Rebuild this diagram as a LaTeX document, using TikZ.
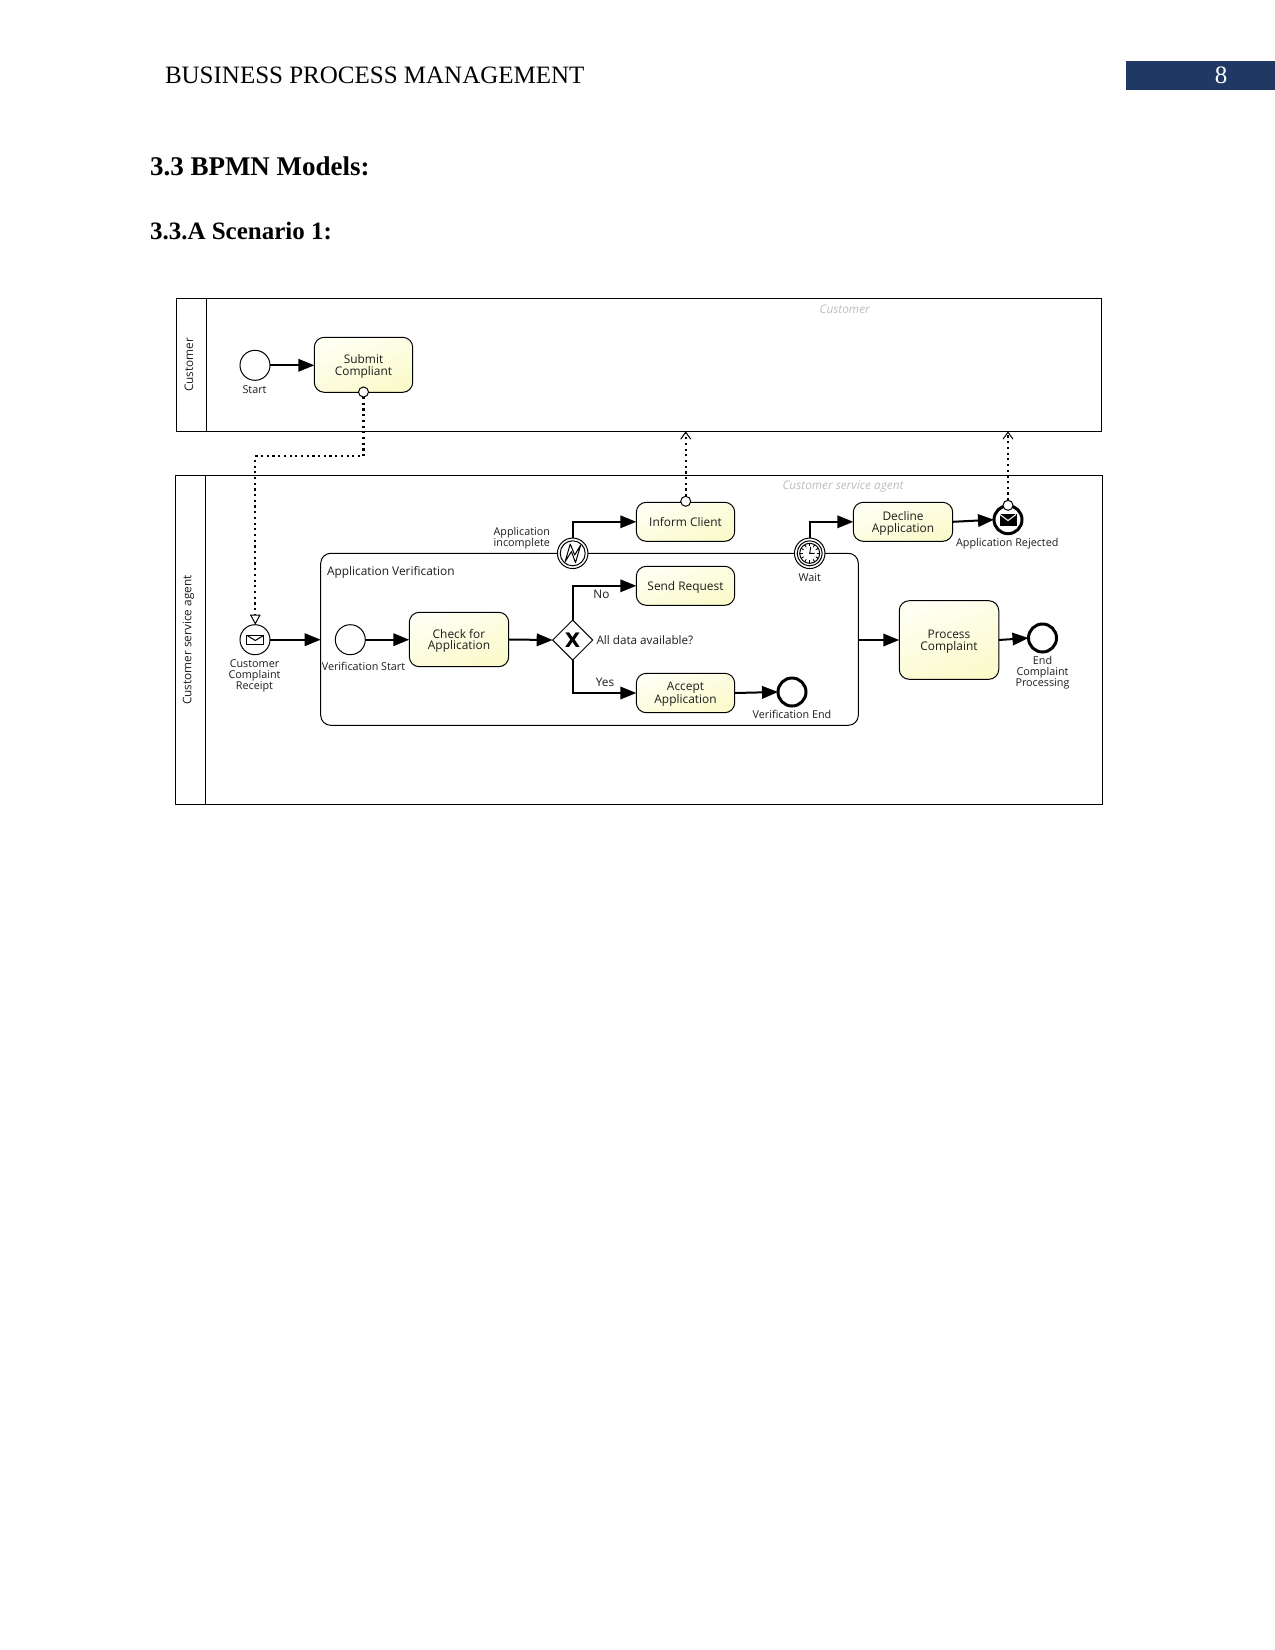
\documentclass[tikz,border=0pt]{standalone}
\usepackage{fontspec}
\setmainfont{Liberation Serif}
\newfontfamily\bpmnfont{Open Sans}
\newfontfamily\markfont{DejaVu Sans}
\usetikzlibrary{arrows.meta,shapes.geometric,calc}
\definecolor{headerblue}{HTML}{1F3864}
\definecolor{bpmntext}{HTML}{1C1C1C}
\definecolor{lanegrey}{HTML}{BDBDBD}
\definecolor{taskpale}{HTML}{FFFFF4}
\definecolor{taskyellow}{HTML}{FAFACB}
\tikzset{
  x=1pt,y=-1pt,
  pool/.style={draw,line width=1pt,inner sep=0pt,outer sep=0pt,anchor=north west},
  task/.style={draw,line width=1pt,rounded corners=10pt,inner sep=0pt,outer sep=0pt,
    shading=axis,left color=taskpale,right color=taskyellow,shading angle=20,align=center,
    text depth=0pt,font=\bpmnfont\fontsize{11.9}{11.8}\selectfont,text=bpmntext},
  label/.style={inner sep=0pt,outer sep=0pt,align=center,
    font=\bpmnfont\fontsize{10.8}{11}\selectfont,text=bpmntext},
  lanetitle/.style={inner sep=0pt,rotate=90,font=\bpmnfont\fontsize{11.8}{12}\selectfont,text=bpmntext},
  laneghost/.style={inner sep=0pt,font=\bpmnfont\itshape\fontsize{11.8}{12}\selectfont,text=lanegrey},
  event/.style={circle,draw,fill=white,line width=1pt,inner sep=0pt,outer sep=0pt,minimum size=30pt},
  endevent/.style={circle,draw,fill=white,line width=3pt,inner sep=0pt,outer sep=0pt,minimum size=28pt},
  boundary/.style={event,minimum size=30.5pt},
  ringinner/.style={circle,draw,line width=1pt,inner sep=0pt,minimum size=25pt},
  port/.style={circle,draw,fill=white,line width=1pt,inner sep=0pt,outer sep=0pt,minimum size=10pt},
  gateway/.style={diamond,draw,fill=white,line width=1pt,inner sep=0pt,outer sep=0pt,
    minimum width=40pt,minimum height=40pt},
  flow/.style={line width=2pt,-{Triangle[length=16pt,width=12.5pt]}},
  msgflow/.style={line width=2.3pt,dash pattern=on 2.2pt off 3.5pt},
  pagehead/.style={inner sep=0pt,outer sep=0pt,anchor=base west},
}
\begin{document}
\begin{tikzpicture}
\useasboundingbox (0,0) rectangle (1275,1650);

% Page header and headings
\fill[headerblue] (1125.5,60.5) rectangle (1275,89.5);
\node[pagehead,font=\fontsize{25}{28}\selectfont] (runninghead) at (165,83) {BUSINESS PROCESS MANAGEMENT};
\node[inner sep=0pt,text=white,font=\fontsize{25}{28}\selectfont] (pagenum) at (1221,75) {8};
\node[pagehead,font=\bfseries\fontsize{27}{30}\selectfont] (headmodels) at (150,175.3) {3.3 BPMN Models:};
\node[pagehead,font=\bfseries\fontsize{25}{28}\selectfont] (headscenario) at (150,239) {3.3.A Scenario 1:};

% Pools
\node[pool,minimum width=925.2pt,minimum height=133pt] (poolcustomer) at (176.5,298.3) {};
\draw[line width=1pt] (206.3,298.3) -- (206.3,431.3);
\node[lanetitle] (titlecustomer) at (189,364.7) {Customer};
\node[laneghost] (ghostcustomer) at (844.7,309) {Customer};

\node[pool,minimum width=927pt,minimum height=329pt] (poolagent) at (175.7,475.3) {};
\draw[line width=1pt] (205.3,475.3) -- (205.3,804.3);
\node[lanetitle] (titleagent) at (188.5,640) {Customer service agent};
\node[laneghost] (ghostagent) at (843,487) {Customer service agent};

% Sub-process frame
\node[draw,line width=1pt,rounded corners=10pt,inner sep=0pt,outer sep=0pt,anchor=north west,
  minimum width=537.6pt,minimum height=172pt] (subproc) at (320.7,553.3) {};
\node[label,anchor=west,font=\bpmnfont\fontsize{11.9}{12}\selectfont] (subtitle) at (327,572.3) {Application Verification};

% Customer lane
\node[event] (start) at (255,365.3) {};
\node[label] (startlabel) at (254.5,389.3) {Start};
\node[task,minimum width=98.4pt,minimum height=55pt] (submit) at (363.5,364.8) {Submit\\Compliant};
\node[port] (submitport) at (363.5,392) {};

% Agent lane, outside the sub-process
\node[event] (receipt) at (255,639.7) {};
\draw[line width=1pt] (246.8,635.3) rectangle (263.8,644.3);
\draw[line width=1pt] (246.8,635.3) -- (255.3,640.5) -- (263.8,635.3);
\node[label] (receiptlabel) at (254.5,675.5) {Customer\\Complaint\\Receipt};

\node[task,minimum width=99.5pt,minimum height=78.6pt] (process) at (949,640) {Process\\Complaint};
\node[endevent] (endproc) at (1042.5,638) {};
\node[label] (endproclabel) at (1042.5,673) {End\\Complaint\\Processing};

% Inside the sub-process
\node[event] (vstart) at (350.3,639.7) {};
\node[label] (vstartlabel) at (363.5,666.5) {Verification Start};
\node[task,minimum width=99.4pt,minimum height=54.4pt] (check) at (459,639.5) {Check for\\Application};
\node[gateway] (gate) at (572.7,640) {};
\node[inner sep=0pt,font=\markfont\bfseries\fontsize{20}{20}\selectfont] (gatemark) at (572.7,640) {X};
\node[label,anchor=west,font=\bpmnfont\fontsize{11.7}{12}\selectfont] (gatelabel) at (596.5,639.7) {All data available?};
\node[task,minimum width=98.4pt,minimum height=39pt] (send) at (685.5,585.8) {Send Request};
\node[task,minimum width=98.4pt,minimum height=39.4pt] (accept) at (685.5,693) {Accept\\Application};
\node[endevent] (vend) at (792,692) {};
\node[label] (vendlabel) at (792,714.7) {Verification End};
\node[label,font=\bpmnfont\fontsize{11.8}{12}\selectfont] (nolabel) at (601.5,594) {No};
\node[label,font=\bpmnfont\fontsize{11.8}{12}\selectfont] (yeslabel) at (605,682.5) {Yes};

% Boundary events on the sub-process border
\node[boundary] (errorev) at (572.7,553.3) {};
\node[ringinner] (errorring) at (572.7,553.3) {};
\draw[line width=1pt,line join=round,shift={(572.7,553.3)}]
  (-7.5,8.3) -- (-2.5,-9.3) -- (2,1.7) -- (8,-8.3) -- (2.8,9.3) -- (-1.3,-1.7) -- cycle;
\node[label,align=right,anchor=east] (errorlabel) at (550,538.6) {Application\\incomplete};

\node[boundary] (timer) at (809.7,553.3) {};
\node[ringinner] (timerring) at (809.7,553.3) {};
\node[circle,draw,line width=1pt,inner sep=0pt,minimum size=20pt] (timerface) at (809.7,553.3) {};
\foreach \a in {0,30,...,330}
  \draw[line width=.9pt] ($(timerface.center)+(\a:7)$) -- ($(timerface.center)+(\a:10)$);
\draw[line width=.9pt] (810.7,547) -- (809.7,553.3) -- (814.5,553.3);
\node[label] (timerlabel) at (809.7,577.5) {Wait};

% Tasks started from the boundary events
\node[task,minimum width=98.4pt,minimum height=39pt] (inform) at (685.5,521.8) {Inform Client};
\node[port] (informport) at (685.7,501.3) {};
\node[task,minimum width=99.4pt,minimum height=39pt] (decline) at (903,521.8) {Decline\\Application};
\node[endevent] (rejected) at (1008,519.7) {};
\draw[fill=black,line width=.6pt] (1000,514.5) rectangle (1016,525.5);
\draw[white,line width=1pt] (1000,514.5) -- (1008,520.5) -- (1016,514.5);
\node[port] (rejectedport) at (1008,505.3) {};
\node[label] (rejectedlabel) at (1007.3,543.5) {Application Rejected};

% Sequence flows
\draw[flow] (start.east) -- (submit.west |- start.east);
\draw[flow] (receipt.east) -- (subproc.west |- receipt.east);
\draw[flow] (vstart.east) -- (check.west |- vstart.east);
\draw[flow] (check.east) -- (gate.west);
\draw[flow] (gate.north) |- (send.west);
\draw[flow] (gate.south) |- (accept.west);
\draw[flow] (accept.east) -- (vend.west);
\draw[flow] (errorev.north) |- (inform.west);
\draw[flow] (timer.north) |- (decline.west);
\draw[flow] (decline.east) -- (rejected.west);
\draw[flow] (subproc.east |- process.west) -- (process.west);
\draw[flow] (process.east) -- (endproc.west);

% Message flows
\coordinate (msgbendA) at (363.5,456.3);
\coordinate (msgbendB) at (255.3,456.3);
\draw[msgflow,-{Triangle[open,length=10pt,width=10.5pt,line width=1pt,fill=white]}]
  (submitport.south) -- (msgbendA) -- (msgbendB) -- (msgbendB |- receipt.north);
\draw[msgflow,-{Straight Barb[length=7pt,width=10pt,line width=1pt]}]
  (informport.north) -- (informport |- poolcustomer.south);
\draw[msgflow,-{Straight Barb[length=7pt,width=10pt,line width=1pt]}]
  (rejectedport.north) -- (rejectedport |- poolcustomer.south);
\end{tikzpicture}
\end{document}
